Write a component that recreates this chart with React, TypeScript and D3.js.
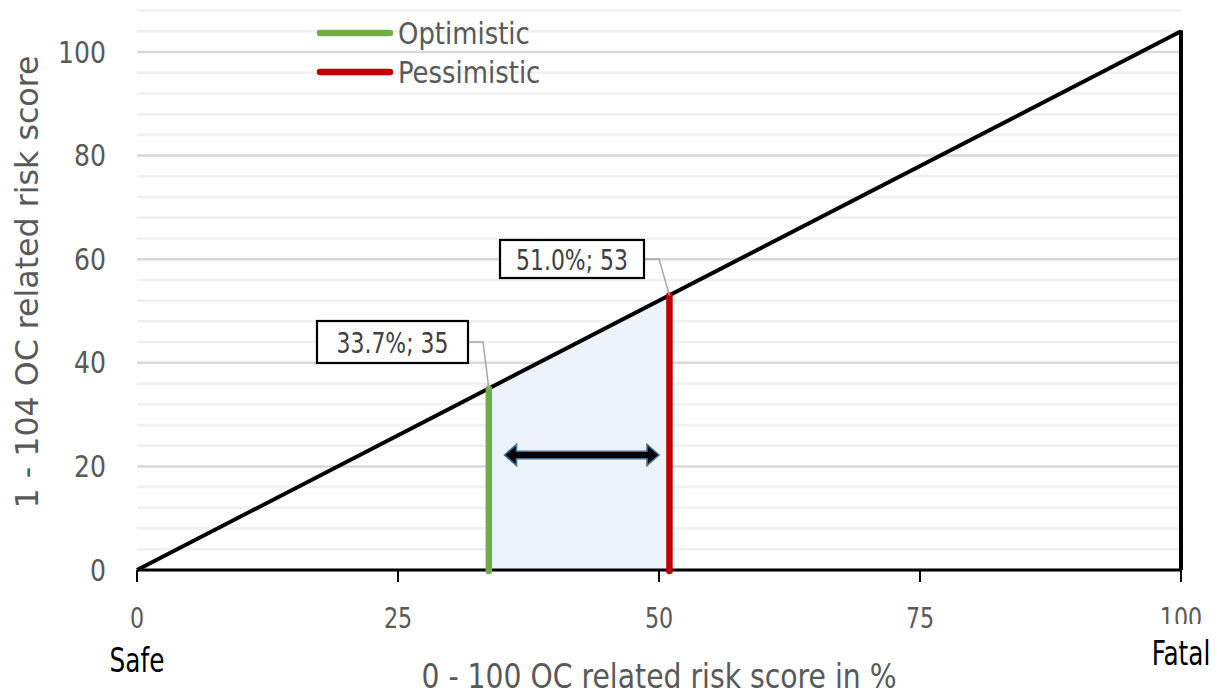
import React from 'react';
import * as d3 from 'd3';

// risk line: 0-100 % mapped onto 1-104 score
const lineX = [0, 100];
const lineY = [0, 104];
const scenarios = [
  { name: 'Optimistic', pct: 33.7, score: 35, color: '#70ad47', label: '33.7%; 35' },
  { name: 'Pessimistic', pct: 51.0, score: 53, color: '#c00000', label: '51.0%; 53' },
];
const xTicks = [0, 25, 50, 75, 100];
const yTicks = [0, 20, 40, 60, 80, 100];
const gridTicks = d3.range(0, 109, 4);
// double arrow spanning the range between scenarios (x values, y value)
const arrowFrom = 35.2;
const arrowTo = 50.0;
const arrowAt = 22.2;

const W = 1219;
const H = 693;
const FONT = "'DejaVu Sans Condensed', 'DejaVu Sans', sans-serif";

// text squeezed horizontally to mimic the narrow office font
const T = ({ x, y, sx = 1, size, anchor = 'start', fill = '#595959', rotate = 0, children }: any) => (
  <text transform={`translate(${x},${y}) rotate(${rotate}) scale(${sx},1)`}
    textAnchor={anchor} fontSize={size} fill={fill}>{children}</text>
);

export default function App() {
  const x = d3.scaleLinear().domain([0, 100]).range([137, 1181]);
  const y = d3.scaleLinear().domain([0, 100]).range([570, 52]);

  const pts = lineX.map((v, i) => [v, lineY[i]] as [number, number]);
  const line = d3.line<[number, number]>().x(d => x(d[0])).y(d => y(d[1]));
  const riskAt = d3.scaleLinear().domain(lineX).range(lineY);

  const [opt, pes] = scenarios;
  const area = d3.area<number>()
    .x(d => x(d))
    .y0(y(0))
    .y1(d => y(riskAt(d)));

  const ay = y(arrowAt);
  const ax0 = x(arrowFrom);
  const ax1 = x(arrowTo);
  const hw = 3.8;
  const hh = 10.5;
  const hl = 12;
  const arrow = `M${ax0},${ay} L${ax0 + hl},${ay - hh} L${ax0 + hl},${ay - hw} L${ax1 - hl},${ay - hw} L${ax1 - hl},${ay - hh} L${ax1},${ay} L${ax1 - hl},${ay + hh} L${ax1 - hl},${ay + hw} L${ax0 + hl},${ay + hw} L${ax0 + hl},${ay + hh} Z`;

  const labelBoxes = [
    { s: opt, bx: 317, by: 321, bw: 151, bh: 42 },
    { s: pes, bx: 500, by: 240, bw: 144, bh: 38 },
  ];

  return (
    <svg width={W} height={H} style={{ position: 'absolute', left: 0, top: 0, background: '#fff' }} fontFamily={FONT}>
      {/* gridlines */}
      {gridTicks.map(t => (
        <line key={'g' + t} x1={x(0)} x2={x(100)} y1={y(t)} y2={y(t)}
          stroke={t % 20 === 0 ? '#d9d9d9' : '#f0f0f0'} strokeWidth={2.5} />
      ))}

      {/* shaded range */}
      <path d={area([opt.pct, pes.pct]) || ''} fill="#edf3fb" />

      {/* x axis */}
      <line x1={x(0)} x2={x(100)} y1={y(0)} y2={y(0)} stroke="#000" strokeWidth={3} />
      {xTicks.map(t => (
        <g key={'x' + t}>
          <line x1={x(t)} x2={x(t)} y1={y(0)} y2={y(0) + 12} stroke="#000" strokeWidth={2} />
          <T x={x(t)} y={628} size={29} sx={0.85} anchor="middle">{t}</T>
        </g>
      ))}
      {yTicks.map(t => (
        <T key={'y' + t} x={106} y={y(t) + 10.5} size={31} sx={0.9} anchor="end">{t}</T>
      ))}

      {/* risk line */}
      <path d={line(pts) || ''} fill="none" stroke="#000" strokeWidth={4} strokeLinejoin="miter" />
      <line x1={x(100)} x2={x(100)} y1={y(0)} y2={y(104) - 1} stroke="#000" strokeWidth={4} />

      {/* scenario markers */}
      {scenarios.map(s => (
        <line key={s.name} x1={x(s.pct)} x2={x(s.pct)} y1={y(0) + 1} y2={y(s.score)}
          stroke={s.color} strokeWidth={6.5} strokeLinecap="round" />
      ))}

      <path d={arrow} fill="#000" stroke="#41719c" strokeWidth={1.6} strokeLinejoin="miter" />

      {/* data labels */}
      {labelBoxes.map(({ s, bx, by, bw, bh }) => (
        <g key={s.label}>
          <polyline
            points={`${bx + bw},${by + bh / 2} ${bx + bw + 15},${by + bh / 2} ${x(s.pct)},${y(s.score)}`}
            fill="none" stroke="#a6a6a6" strokeWidth={1.5} />
          <rect x={bx} y={by} width={bw} height={bh} fill="#fff" stroke="#000" strokeWidth={2.2} />
          <T x={bx + bw / 2} y={by + bh / 2 + 10.5} size={29} sx={0.84} anchor="middle" fill="#404040">{s.label}</T>
        </g>
      ))}

      {/* legend */}
      {scenarios.map((s, i) => (
        <g key={'lg' + s.name} transform={`translate(0, ${33 + i * 39})`}>
          <line x1={320} x2={390} y1={0} y2={0} stroke={s.color} strokeWidth={6.5} strokeLinecap="round" />
          <T x={398} y={11} size={31} sx={0.93}>{s.name}</T>
        </g>
      ))}

      {/* titles */}
      <T x={38} y={282} rotate={-90} size={32} sx={1.1} anchor="middle">1 - 104 OC related risk score</T>
      <T x={659} y={688} size={34} sx={0.925} anchor="middle">0 - 100 OC related risk score in %</T>
      <T x={x(0)} y={672} size={34} sx={0.81} anchor="middle" fill="#000">Safe</T>
      {/* the Fatal text box sits over the bottom of the 100 tick label */}
      <rect x={1140} y={624} width={79} height={50} fill="#fff" />
      <T x={x(100)} y={665} size={34} sx={0.81} anchor="middle" fill="#000">Fatal</T>
    </svg>
  );
}
